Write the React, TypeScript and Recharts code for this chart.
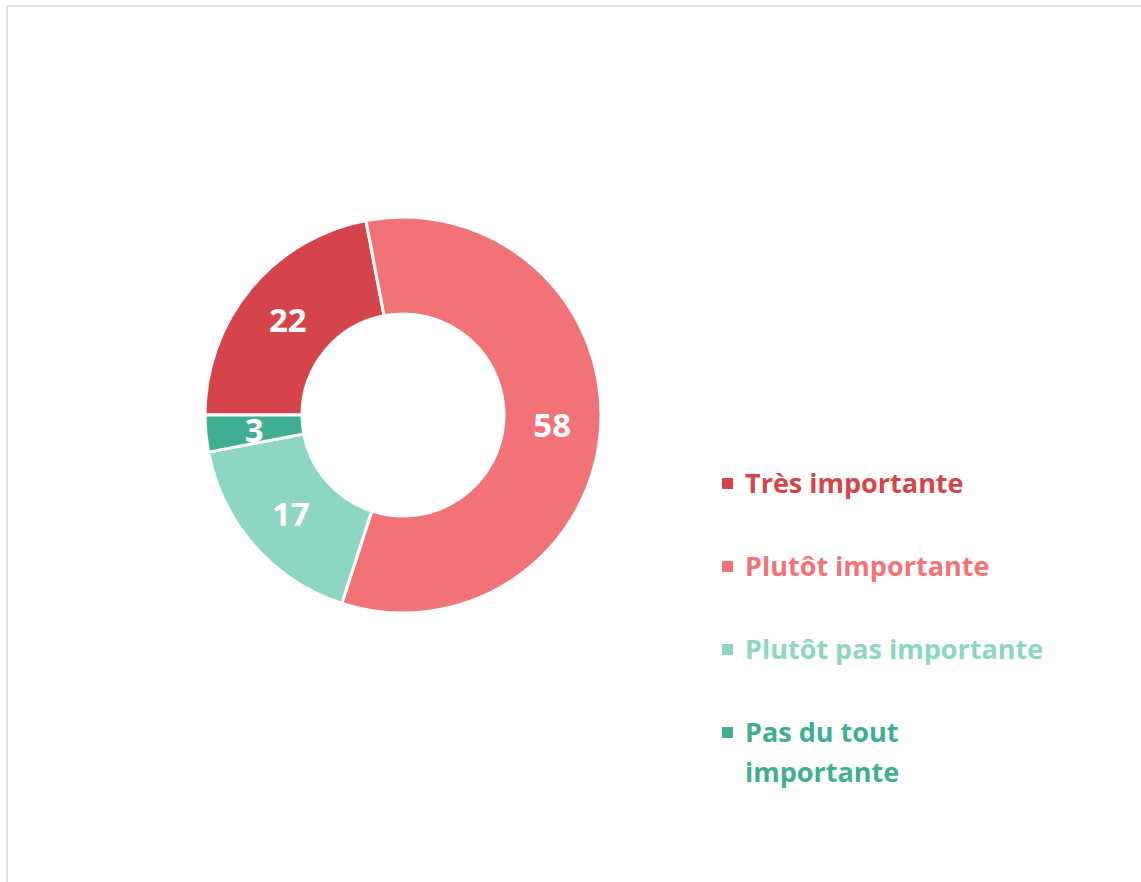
import { PieChart, Pie, Cell, Legend } from "recharts";

const categories = [
  "Très importante",
  "Plutôt importante",
  "Plutôt pas importante",
  "Pas du tout importante",
];
const values = [22, 58, 17, 3];
const colors = ["#d5444a", "#f27377", "#8dd6c4", "#3fae93"];

const data = categories.map((name, i) => ({ name, value: values[i] }));

const RADIAN = Math.PI / 180;

function renderLabel(props: any) {
  const { cx, cy, midAngle, innerRadius, outerRadius, value } = props;
  const r = (innerRadius + outerRadius) / 2;
  const x = cx + r * Math.cos(-midAngle * RADIAN);
  const y = cy + r * Math.sin(-midAngle * RADIAN);
  return (
    <text
      x={x}
      y={y}
      fill="#ffffff"
      textAnchor="middle"
      dominantBaseline="central"
      fontFamily="Open Sans"
      fontWeight={700}
      fontSize={33}
    >
      {value}
    </text>
  );
}

// legend drawn in category order (recharts 3 can reorder the payload)
function renderLegend() {
  return (
    <div style={{ fontFamily: "Open Sans", fontWeight: 700, fontSize: 27 }}>
      {categories.map((name, i) => (
        <div
          key={name}
          style={{
            display: "flex",
            alignItems: "flex-start",
            marginBottom: 43,
            color: colors[i],
            lineHeight: "40px",
          }}
        >
          <span
            style={{
              display: "inline-block",
              width: 11,
              height: 11,
              background: colors[i],
              marginTop: 15,
              marginRight: 12,
              flexShrink: 0,
            }}
          />
          <span style={{ width: 305 }}>{name}</span>
        </div>
      ))}
    </div>
  );
}

export default function App() {
  return (
    <div
      style={{
        position: "absolute",
        left: 0,
        top: 0,
        width: 1141,
        height: 882,
        background: "#fff",
        overflow: "hidden",
      }}
    >
      <div
        style={{
          position: "absolute",
          left: 6,
          top: 5,
          width: 1160,
          height: 900,
          border: "2px solid #e4e4e4",
        }}
      />
      <div style={{ position: "absolute", left: 0, top: 0 }}>
        <PieChart
          width={1141}
          height={882}
          margin={{ top: 0, right: 0, bottom: 0, left: 0 }}
        >
          <Pie
            data={data}
            dataKey="value"
            nameKey="name"
            cx={403}
            cy={415}
            innerRadius={101}
            outerRadius={198}
            startAngle={180}
            endAngle={-180}
            stroke="#ffffff"
            strokeWidth={3}
            label={renderLabel}
            labelLine={false}
            isAnimationActive={false}
          >
            {data.map((d, i) => (
              <Cell key={d.name} fill={colors[i]} />
            ))}
          </Pie>
          <Legend
            content={renderLegend}
            layout="vertical"
            wrapperStyle={{ left: 722, top: 463, width: 340 }}
          />
        </PieChart>
      </div>
    </div>
  );
}
